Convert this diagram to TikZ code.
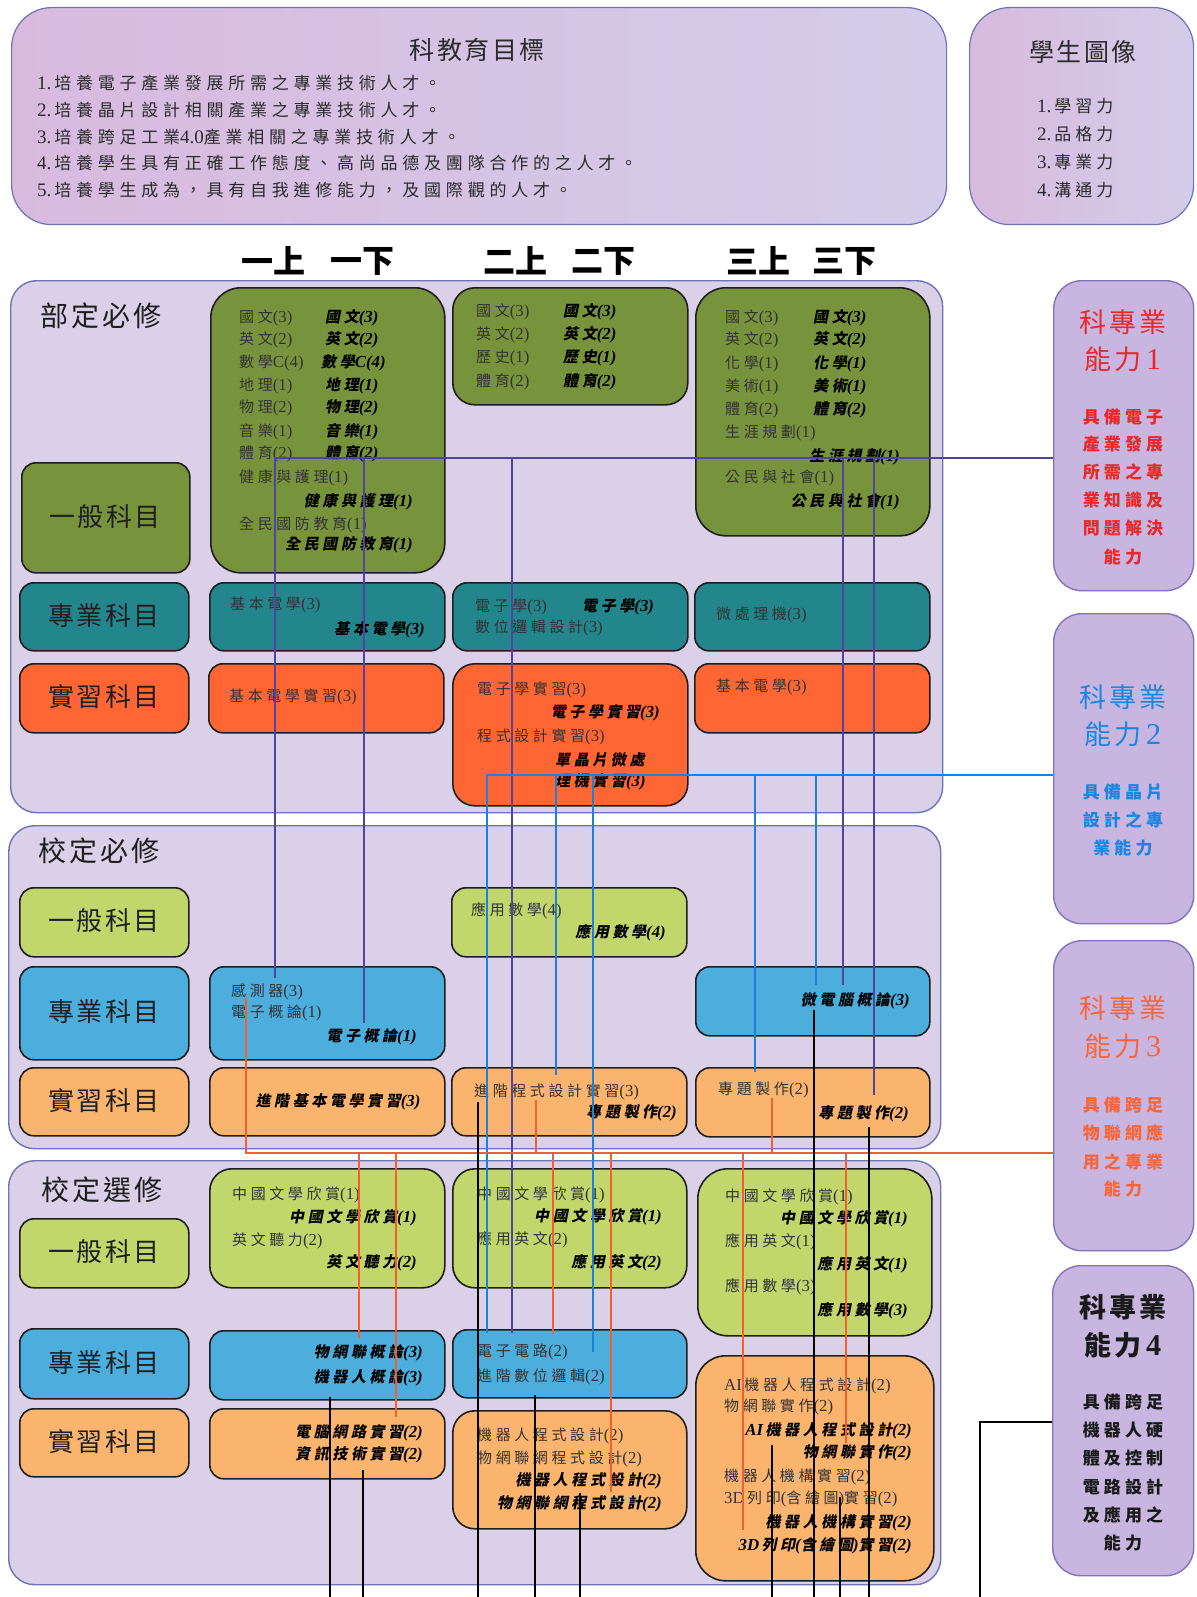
\documentclass[tikz,border=0pt]{standalone}
\usepackage{fontspec}
\setmainfont{Noto Sans CJK TC}
\newfontfamily\ckA{Noto Sans CJK TC}[LetterSpace=24]
\newfontfamily\ckI{Noto Sans CJK TC}[LetterSpace=24,FakeSlant=0.2]
\newfontfamily\ckO{Noto Sans CJK TC}[LetterSpace=28]
\newfontfamily\ckB{Noto Sans CJK TC}[LetterSpace=10]
\newfontfamily\latf{Liberation Serif}[Scale=1.12]
\newcommand\pn[1]{{\latf(#1)}}
\newcommand\bx[6]{\node[#1, anchor=north west, inner sep=0pt, minimum width={(#5-#3)*1pt}, minimum height={(#6-#4)*1pt}] (#2) at (#3,#4) {};}
\newcommand\tw[4]{\node[#1, anchor=west] (#2) at (#3) {#4};}
\newcommand\te[4]{\node[#1, anchor=east] (#2) at (#3) {#4};}
\newcommand\tc[4]{\node[#1] (#2) at (#3) {#4};}
\definecolor{secfill}{HTML}{DAD0E8}
\definecolor{secdraw}{HTML}{6B74B6}
\definecolor{capfill}{HTML}{C9B6E0}
\definecolor{capdraw}{HTML}{8073BE}
\definecolor{topL}{HTML}{D8BADF}
\definecolor{topR}{HTML}{D3CDEA}
\definecolor{dkgreen}{HTML}{77933C}
\definecolor{teal}{HTML}{23868C}
\definecolor{redor}{HTML}{FF6633}
\definecolor{ygreen}{HTML}{C3D66B}
\definecolor{sky}{HTML}{4BAEDD}
\definecolor{lorange}{HTML}{FBB46E}
\definecolor{celldraw}{HTML}{1E1E1E}
\definecolor{rgtxt}{HTML}{333333}
\definecolor{labtxt}{HTML}{1E1E1E}
\definecolor{objtxt}{HTML}{2A2A2A}
\definecolor{c1}{HTML}{E8282A}
\definecolor{c2}{HTML}{1A86E0}
\definecolor{c3}{HTML}{F7663A}
\definecolor{c4}{HTML}{1A1A1A}
\definecolor{lc1}{HTML}{4F45A0}
\definecolor{lc2}{HTML}{1F80DA}
\definecolor{lc3}{HTML}{F2602E}
\tikzset{
 sec/.style={draw=secdraw, fill=secfill, line width=1.4pt, rounded corners=26pt},
 topbox/.style={draw=secdraw, line width=1.2pt, rounded corners=40pt, left color=topL, right color=topR},
 cell/.style={draw=celldraw, line width=1.6pt, rounded corners=14pt},
 bigcell/.style={draw=celldraw, line width=1.6pt, rounded corners=30pt},
 midcell/.style={draw=celldraw, line width=1.6pt, rounded corners=22pt},
 capbox/.style={draw=capdraw, fill=capfill, line width=1.4pt, rounded corners=28pt},
 rg/.style={inner sep=0pt, text=rgtxt, font=\ckA\fontsize{15}{15}\selectfont},
 bi/.style={inner sep=0pt, text=black, font=\ckI\fontsize{15}{15}\selectfont\bfseries\itshape},
 rowlab/.style={inner sep=0pt, text=labtxt, font=\ckB\fontsize{26}{26}\selectfont},
 seclab/.style={inner sep=0pt, text=labtxt, font=\ckB\fontsize{28}{28}\selectfont},
 semhead/.style={inner sep=0pt, text=black, font=\fontsize{32}{32}\selectfont\bfseries},
 capT/.style={inner sep=0pt, font=\ckB\fontsize{27}{27}\selectfont},
 capD/.style={inner sep=0pt, font=\ckA\fontsize{17}{17}\selectfont\bfseries},
 obj/.style={inner sep=0pt, text=objtxt, font=\ckO\fontsize{17}{17}\selectfont},
 pitem/.style={inner sep=0pt, text=objtxt, font=\ckA\fontsize{17}{17}\selectfont},
 ttl/.style={inner sep=0pt, text=objtxt, font=\ckB\fontsize{25}{25}\selectfont},
 l1/.style={draw=lc1, line width=1.3pt},
 l2/.style={draw=lc2, line width=1.3pt},
 l3/.style={draw=lc3, line width=1.3pt},
 l4/.style={draw=black, line width=1.6pt}
}
\begin{document}
\begin{tikzpicture}[x=1pt,y=-1pt]
\fill[white] (0,0) rectangle (1196,1597);
\useasboundingbox (0,0) rectangle (1196,1597);
% ---------- top boxes
\bx{topbox}{goal}{11}{7}{946}{224}
\bx{topbox}{pic}{969}{7}{1193}{224}
\tc{ttl}{goalT}{477,50}{科教育目標}
\tw{obj}{o1}{37,83}{{\latf 1.}\,培養電子產業發展所需之專業技術人才。}
\tw{obj}{o2}{37,110}{{\latf 2.}\,培養晶片設計相關產業之專業技術人才。}
\tw{obj}{o3}{37,137}{{\latf 3.}\,培養跨足工業{\latf 4.0}產業相關之專業技術人才。}
\tw{obj}{o4}{37,163}{{\latf 4.}\,培養學生具有正確工作態度、高尚品德及團隊合作的之人才。}
\tw{obj}{o5}{37,190}{{\latf 5.}\,培養學生成為，具有自我進修能力，及國際觀的人才。}
\tc{ttl}{picT}{1083,52}{學生圖像}
\tw{pitem}{p1}{1037,106}{{\latf 1.}\,學習力}
\tw{pitem}{p2}{1037,134}{{\latf 2.}\,品格力}
\tw{pitem}{p3}{1037,162}{{\latf 3.}\,專業力}
\tw{pitem}{p4}{1037,190}{{\latf 4.}\,溝通力}
% ---------- semester headers
\tc{semhead}{h1}{273,261}{一上}
\tc{semhead}{h2}{362,261}{一下}
\tc{semhead}{h3}{515,261}{二上}
\tc{semhead}{h4}{603,261}{二下}
\tc{semhead}{h5}{758,261}{三上}
\tc{semhead}{h6}{844,261}{三下}
% ---------- sections
\bx{sec}{s1}{10}{280}{942}{812}
\bx{sec}{s2}{8}{825}{940}{1148}
\bx{sec}{s3}{8}{1160}{940}{1584}
\tc{seclab}{L1}{101,316}{部定必修}
\tc{seclab}{L2}{99,851}{校定必修}
\tc{seclab}{L3}{102,1190}{校定選修}
% ---------- row labels
\bx{cell,fill=dkgreen}{r1}{21}{462}{189}{572}
\bx{cell,fill=teal}{r2}{19}{582}{188}{650}
\bx{cell,fill=redor}{r3}{19}{663}{188}{732}
\bx{cell,fill=ygreen}{r4}{19}{887}{188}{956}
\bx{cell,fill=sky}{r5}{19}{966}{188}{1059}
\bx{cell,fill=lorange}{r6}{19}{1067}{188}{1135}
\bx{cell,fill=ygreen}{r7}{19}{1218}{188}{1287}
\bx{cell,fill=sky}{r8}{19}{1328}{188}{1398}
\bx{cell,fill=lorange}{r9}{19}{1408}{188}{1476}
\tc{rowlab}{rt1}{105,517}{一般科目}
\tc{rowlab}{rt2}{104,616}{專業科目}
\tc{rowlab}{rt3}{104,697}{實習科目}
\tc{rowlab}{rt4}{104,921}{一般科目}
\tc{rowlab}{rt5}{104,1012}{專業科目}
\tc{rowlab}{rt6}{104,1101}{實習科目}
\tc{rowlab}{rt7}{104,1252}{一般科目}
\tc{rowlab}{rt8}{104,1363}{專業科目}
\tc{rowlab}{rt9}{104,1442}{實習科目}
% ---------- cells section 1
\bx{bigcell,fill=dkgreen}{A1g}{210}{287}{444}{572}
\bx{midcell,fill=dkgreen}{A2g}{452}{287}{687}{404}
\bx{bigcell,fill=dkgreen}{A3g}{695}{287}{929}{535}
\bx{cell,fill=teal}{A1t}{209}{582}{444}{650}
\bx{cell,fill=teal}{A2t}{452}{582}{687}{650}
\bx{cell,fill=teal}{A3t}{694}{582}{929}{650}
\bx{cell,fill=redor}{A1o}{208}{663}{443}{732}
\bx{midcell,fill=redor}{A2o}{452}{663}{687}{805}
\bx{cell,fill=redor}{A3o}{694}{663}{929}{732}
% ---------- cells section 2
\bx{cell,fill=ygreen}{B2g}{451}{887}{686}{956}
\bx{cell,fill=sky}{B1s}{209}{966}{444}{1059}
\bx{cell,fill=sky}{B3s}{695}{966}{929}{1035}
\bx{cell,fill=lorange}{B1p}{209}{1067}{444}{1135}
\bx{cell,fill=lorange}{B2p}{451}{1067}{686}{1135}
\bx{cell,fill=lorange}{B3p}{695}{1067}{929}{1136}
% ---------- cells section 3
\bx{midcell,fill=ygreen}{C1g}{209}{1168}{444}{1287}
\bx{midcell,fill=ygreen}{C2g}{452}{1168}{686}{1287}
\bx{bigcell,fill=ygreen}{C3g}{697}{1168}{931}{1335}
\bx{cell,fill=sky}{C1s}{209}{1330}{444}{1399}
\bx{cell,fill=sky}{C2s}{452}{1329}{686}{1397}
\bx{cell,fill=lorange}{C1p}{209}{1408}{444}{1478}
\bx{midcell,fill=lorange}{C2p}{452}{1410}{686}{1528}
\bx{bigcell,fill=lorange}{C3p}{695}{1355}{933}{1580}
% ---------- capability boxes
\bx{capbox}{cap1}{1053}{280}{1193}{590}
\bx{capbox}{cap2}{1053}{613}{1193}{923}
\bx{capbox}{cap3}{1053}{940}{1193}{1250}
\bx{capbox}{cap4}{1052}{1265}{1193}{1575}
\tc{capT,text=c1}{k1a}{1123,322}{科專業}
\tc{capT,text=c1}{k1b}{1123,359}{能力\,{\latf 1}}
\tc{capD,text=c1}{k1c}{1123,417}{具備電子}
\tc{capD,text=c1}{k1d}{1123,444}{產業發展}
\tc{capD,text=c1}{k1e}{1123,472}{所需之專}
\tc{capD,text=c1}{k1f}{1123,500}{業知識及}
\tc{capD,text=c1}{k1g}{1123,528}{問題解決}
\tc{capD,text=c1}{k1h}{1123,557}{能力}
\tc{capT,text=c2}{k2a}{1123,697}{科專業}
\tc{capT,text=c2}{k2b}{1123,734}{能力\,{\latf 2}}
\tc{capD,text=c2}{k2c}{1123,792}{具備晶片}
\tc{capD,text=c2}{k2d}{1123,820}{設計之專}
\tc{capD,text=c2}{k2e}{1123,848}{業能力}
\tc{capT,text=c3}{k3a}{1123,1008}{科專業}
\tc{capT,text=c3}{k3b}{1123,1046}{能力\,{\latf 3}}
\tc{capD,text=c3}{k3c}{1123,1105}{具備跨足}
\tc{capD,text=c3}{k3d}{1123,1133}{物聯網應}
\tc{capD,text=c3}{k3e}{1123,1162}{用之專業}
\tc{capD,text=c3}{k3f}{1123,1189}{能力}
\tc{capT,text=c4,font=\ckB\fontsize{27}{27}\selectfont\bfseries}{k4a}{1123,1307}{科專業}
\tc{capT,text=c4,font=\ckB\fontsize{27}{27}\selectfont\bfseries}{k4b}{1123,1345}{能力\,{\latf 4}}
\tc{capD,text=c4}{k4c}{1123,1402}{具備跨足}
\tc{capD,text=c4}{k4d}{1123,1430}{機器人硬}
\tc{capD,text=c4}{k4e}{1123,1458}{體及控制}
\tc{capD,text=c4}{k4f}{1123,1487}{電路設計}
\tc{capD,text=c4}{k4g}{1123,1515}{及應用之}
\tc{capD,text=c4}{k4h}{1123,1543}{能力}
% ---------- texts A1g
\tw{rg}{a1}{239,318}{國文\pn{3}}
\tw{rg}{a2}{239,340}{英文\pn{2}}
\tw{rg}{a3}{239,363}{數學{\latf C}\pn{4}}
\tw{rg}{a4}{239,386}{地理\pn{1}}
\tw{rg}{a5}{239,408}{物理\pn{2}}
\tw{rg}{a6}{239,432}{音樂\pn{1}}
\tw{rg}{a7}{239,454}{體育\pn{2}}
\tw{rg}{a8}{239,478}{健康與護理\pn{1}}
\tw{rg}{a9}{239,525}{全民國防教育\pn{1}}
\tw{bi}{ab1}{325,318}{國文\pn{3}}
\tw{bi}{ab2}{325,340}{英文\pn{2}}
\tw{bi}{ab3}{321,363}{數學{\latf C}\pn{4}}
\tw{bi}{ab4}{325,386}{地理\pn{1}}
\tw{bi}{ab5}{325,408}{物理\pn{2}}
\tw{bi}{ab6}{325,432}{音樂\pn{1}}
\tw{bi}{ab7}{325,454}{體育\pn{2}}
\te{bi}{ab8}{413,502}{健康與護理\pn{1}}
\te{bi}{ab9}{413,545}{全民國防教育\pn{1}}
% A2g
\tw{rg}{b1}{476,312}{國文\pn{3}}
\tw{rg}{b2}{476,335}{英文\pn{2}}
\tw{rg}{b3}{476,358}{歷史\pn{1}}
\tw{rg}{b4}{476,382}{體育\pn{2}}
\tw{bi}{bb1}{563,312}{國文\pn{3}}
\tw{bi}{bb2}{563,335}{英文\pn{2}}
\tw{bi}{bb3}{563,358}{歷史\pn{1}}
\tw{bi}{bb4}{563,382}{體育\pn{2}}
% A3g
\tw{rg}{c1t}{725,318}{國文\pn{3}}
\tw{rg}{c2t}{725,340}{英文\pn{2}}
\tw{rg}{c3t}{725,364}{化學\pn{1}}
\tw{rg}{c4t}{725,387}{美術\pn{1}}
\tw{rg}{c5t}{725,410}{體育\pn{2}}
\tw{rg}{c6t}{725,433}{生涯規劃\pn{1}}
\tw{rg}{c7t}{725,478}{公民與社會\pn{1}}
\tw{bi}{cb1}{813,318}{國文\pn{3}}
\tw{bi}{cb2}{813,340}{英文\pn{2}}
\tw{bi}{cb3}{813,364}{化學\pn{1}}
\tw{bi}{cb4}{813,387}{美術\pn{1}}
\tw{bi}{cb5}{813,410}{體育\pn{2}}
\te{bi}{cb6}{900,457}{生涯規劃\pn{1}}
\te{bi}{cb7}{900,502}{公民與社會\pn{1}}
% teal row
\tw{rg}{d1}{230,605}{基本電學\pn{3}}
\te{bi}{d2}{425,630}{基本電學\pn{3}}
\tw{rg}{d3}{475,607}{電子學\pn{3}}
\tw{bi}{d4}{582,607}{電子學\pn{3}}
\tw{rg}{d5}{475,628}{數位邏輯設計\pn{3}}
\tw{rg}{d6}{716,615}{微處理機\pn{3}}
% orange row
\tw{rg}{e1}{229,697}{基本電學實習\pn{3}}
\tw{rg}{e2}{477,690}{電子學實習\pn{3}}
\te{bi}{e3}{660,713}{電子學實習\pn{3}}
\tw{rg}{e4}{477,737}{程式設計實習\pn{3}}
\tw{bi}{e5}{555,760}{單晶片微處}
\tw{bi}{e6}{555,782}{理機實習\pn{3}}
\tw{rg}{e7}{716,687}{基本電學\pn{3}}
% section 2 texts
\tw{rg}{f1}{471,911}{應用數學\pn{4}}
\te{bi}{f2}{666,933}{應用數學\pn{4}}
\tw{rg}{f3}{231,992}{感測器\pn{3}}
\tw{rg}{f4}{231,1013}{電子概論\pn{1}}
\te{bi}{f5}{417,1037}{電子概論\pn{1}}
\te{bi}{f6}{910,1001}{微電腦概論\pn{3}}
\tc{bi}{f7}{338,1102}{進階基本電學實習\pn{3}}
\tw{rg}{f8}{474,1092}{進階程式設計實習\pn{3}}
\te{bi}{f9}{677,1113}{專題製作\pn{2}}
\tw{rg}{f10}{718,1090}{專題製作\pn{2}}
\te{bi}{f11}{909,1114}{專題製作\pn{2}}
% section 3 texts
\tw{rg}{g1}{232,1195}{中國文學欣賞\pn{1}}
\te{bi}{g2}{417,1218}{中國文學欣賞\pn{1}}
\tw{rg}{g3}{232,1241}{英文聽力\pn{2}}
\te{bi}{g4}{417,1263}{英文聽力\pn{2}}
\tw{rg}{g5}{477,1195}{中國文學欣賞\pn{1}}
\te{bi}{g6}{662,1217}{中國文學欣賞\pn{1}}
\tw{rg}{g7}{477,1240}{應用英文\pn{2}}
\te{bi}{g8}{662,1263}{應用英文\pn{2}}
\tw{rg}{g9}{725,1197}{中國文學欣賞\pn{1}}
\te{bi}{g10}{908,1219}{中國文學欣賞\pn{1}}
\tw{rg}{g11}{725,1242}{應用英文\pn{1}}
\te{bi}{g12}{908,1265}{應用英文\pn{1}}
\tw{rg}{g13}{725,1287}{應用數學\pn{3}}
\te{bi}{g14}{908,1311}{應用數學\pn{3}}
\te{bi}{g15}{423,1353}{物網聯概論\pn{3}}
\te{bi}{g16}{423,1378}{機器人概論\pn{3}}
\tw{rg}{g17}{477,1352}{電子電路\pn{2}}
\tw{rg}{g18}{477,1377}{進階數位邏輯\pn{2}}
\te{bi}{g19}{423,1433}{電腦網路實習\pn{2}}
\te{bi}{g20}{423,1455}{資訊技術實習\pn{2}}
\tw{rg}{g21}{477,1436}{機器人程式設計\pn{2}}
\tw{rg}{g22}{477,1459}{物網聯網程式設計\pn{2}}
\te{bi}{g23}{662,1481}{機器人程式設計\pn{2}}
\te{bi}{g24}{662,1504}{物網聯網程式設計\pn{2}}
\tw{rg}{g25}{724,1386}{{\latf AI}\,機器人程式設計\pn{2}}
\tw{rg}{g26}{724,1407}{物網聯實作\pn{2}}
\te{bi}{g27}{912,1431}{{\latf AI}\,機器人程式設計\pn{2}}
\te{bi}{g28}{912,1453}{物網聯實作\pn{2}}
\tw{rg}{g29}{724,1477}{機器人機構實習\pn{2}}
\tw{rg}{g30}{724,1499}{{\latf 3D}\,列印{\latf(}含繪圖{\latf)}實習\pn{2}}
\te{bi}{g31}{912,1523}{機器人機構實習\pn{2}}
\te{bi}{g32}{912,1546}{{\latf 3D}\,列印{\latf(}含繪圖{\latf)}實習\pn{2}}
% ---------- connectors: capability 1
\coordinate (j1) at (275,458);
\coordinate (e1a) at (275,978);
\coordinate (e1b) at (364,1023);
\coordinate (e1c) at (512,1333);
\coordinate (e1d) at (843,985);
\coordinate (e1e) at (874,1095);
\draw[l1] (cap1.west |- j1) -- (j1) -- (e1a);
\draw[l1] (e1b |- j1) -- (e1b);
\draw[l1] (e1c |- j1) -- (e1c);
\draw[l1] (e1d |- j1) -- (e1d);
\draw[l1] (e1e |- j1) -- (e1e);
% capability 2
\coordinate (j2) at (487,775);
\coordinate (e2a) at (487,1333);
\coordinate (e2b) at (556,1075);
\coordinate (e2c) at (593,1352);
\coordinate (e2d) at (755,1072);
\coordinate (e2e) at (816,985);
\draw[l2] (cap2.west |- j2) -- (j2) -- (e2a);
\draw[l2] (e2b |- j2) -- (e2b);
\draw[l2] (e2c |- j2) -- (e2c);
\draw[l2] (e2d |- j2) -- (e2d);
\draw[l2] (e2e |- j2) -- (e2e);
% capability 3
\coordinate (j3) at (246,1153);
\coordinate (s3a) at (246,998);
\coordinate (s3b) at (536,1100);
\coordinate (s3c) at (772,1098);
\coordinate (e3a) at (359,1338);
\coordinate (e3b) at (396,1417);
\coordinate (e3c) at (553,1334);
\coordinate (e3d) at (611,1492);
\coordinate (e3e) at (743,1530);
\coordinate (e3f) at (846,1443);
\draw[l3] (s3a) -- (j3) -- (cap3.west |- j3);
\draw[l3] (s3b) -- (s3b |- j3);
\draw[l3] (s3c) -- (s3c |- j3);
\draw[l3] (e3a |- j3) -- (e3a);
\draw[l3] (e3b |- j3) -- (e3b);
\draw[l3] (e3c |- j3) -- (e3c);
\draw[l3] (e3d |- j3) -- (e3d);
\draw[l3] (e3e |- j3) -- (e3e);
\draw[l3] (e3f |- j3) -- (e3f);
% capability 4
\coordinate (bot) at (0,1597);
\coordinate (j4) at (980,1422);
\coordinate (s4a) at (330,1397);
\coordinate (s4b) at (363,1470);
\coordinate (s4c) at (478,1102);
\coordinate (s4d) at (535,1395);
\coordinate (s4e) at (580,1493);
\coordinate (s4f) at (772,1445);
\coordinate (s4g) at (814,1010);
\coordinate (s4h) at (840,1497);
\coordinate (s4i) at (869,1127);
\draw[l4] (cap4.west |- j4) -- (j4) -- (j4 |- bot);
\draw[l4] (s4a) -- (s4a |- bot);
\draw[l4] (s4b) -- (s4b |- bot);
\draw[l4] (s4c) -- (s4c |- bot);
\draw[l4] (s4d) -- (s4d |- bot);
\draw[l4] (s4e) -- (s4e |- bot);
\draw[l4] (s4f) -- (s4f |- bot);
\draw[l4] (s4g) -- (s4g |- bot);
\draw[l4] (s4h) -- (s4h |- bot);
\draw[l4] (s4i) -- (s4i |- bot);
\end{tikzpicture}
\end{document}
